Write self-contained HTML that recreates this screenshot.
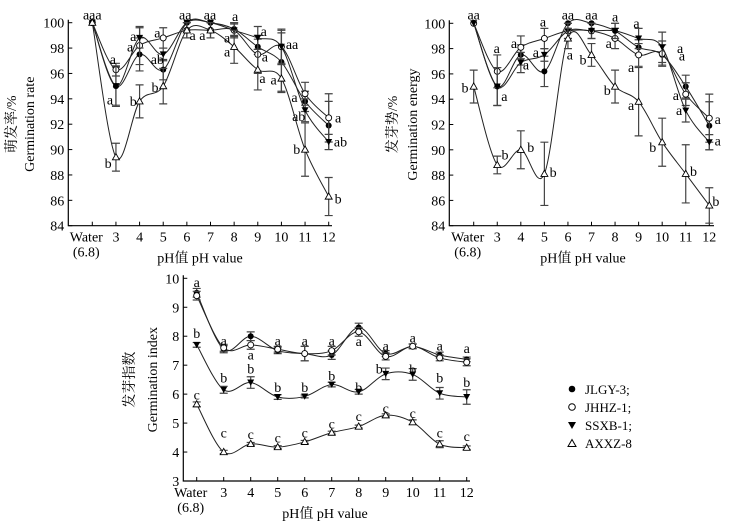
<!DOCTYPE html>
<html><head><meta charset="utf-8">
<style>
html,body{margin:0;padding:0;background:#fff;}
svg{display:block;font-family:"Liberation Serif","Noto Serif CJK SC",serif;}
</style></head>
<body>
<svg id="chart" width="732" height="524" viewBox="0 0 732 524" xmlns="http://www.w3.org/2000/svg">
<g>
  <circle cx="572" cy="389" r="3.3" fill="#000"/>
  <text x="585" y="394" font-size="13">JLGY-3;</text>
  <circle cx="572" cy="407" r="3.3" fill="#fff" stroke="#000"/>
  <text x="585" y="412" font-size="13">JHHZ-1;</text>
  <path d="M568,422 L576,422 L572,429 Z" fill="#000"/>
  <text x="585" y="430" font-size="13">SSXB-1;</text>
  <path d="M568,446.5 L576,446.5 L572,439.5 Z" fill="#fff" stroke="#000"/>
  <text x="585" y="448" font-size="13">AXXZ-8</text>
</g>
</svg>
<script>
const categories = ["Water","3","4","5","6","7","8","9","10","11","12"];
const seriesNames = ["JLGY-3","JHHZ-1","SSXB-1","AXXZ-8"];

// Panel 1: germination rate (%)
const rateJLGY = [100,95.0,97.5,96.3,100,100,99.5,98.1,96.9,93.8,91.9];
const rateJHHZ = [100,96.3,98.2,98.8,99.4,99.4,99.4,97.5,98.1,94.4,92.5];
const rateSSXB = [100,95.0,98.8,97.5,100,100,99.4,98.8,98.1,93.1,90.6];
const rateAXXZ = [100,89.4,93.8,95.0,99.4,99.4,98.1,96.3,95.6,90.0,86.3];
const rateErrJLGY = [0,1.5,1.3,0.8,0,0,0.5,0.6,2.3,0.8,1.9];
const rateErrJHHZ = [0,0.5,1.5,0.8,0.6,0.6,0.6,1.5,1.3,0.9,1.9];
const rateErrSSXB = [0,1.6,0.8,0.5,0,0,0.5,0.9,1.4,0.9,0.6];
const rateErrAXXZ = [0,1.1,1.3,1.4,0.6,0.6,1.3,1.6,1.1,2.1,1.5];
const rateTicks = [84,86,88,90,92,94,96,98,100];
const rateLetterText = ["aaa","a","a","b","a","a","b","a","ab","b","aa","a a","aa","a","a","a","a","a","a","a","aa","a","ab","b","a","ab","b"];
const rateLetterX = [0,0.87,0.75,0.67,1.73,1.6,1.73,2.75,2.75,2.65,3.93,4.45,4.98,6.04,5.7,5.7,7.25,7.3,7.2,7.67,8.45,8.55,8.73,8.65,10.4,10.5,10.4];
const rateLetterY = [100.6,97.1,93.9,88.9,98.9,98.1,93.8,99.2,97.1,94.9,100.6,99.0,100.6,100.5,98.8,97.7,99.3,97.3,95.6,95.5,98.3,94.1,92.6,90,92.5,90.6,86.1];

// Panel 2: germination energy (%)
const energyJLGY = [100,95.0,97.5,96.2,100,100,99.4,98.1,97.5,95.0,91.9];
const energyJHHZ = [100,96.2,98.1,98.8,99.4,99.4,98.8,97.5,97.6,94.4,92.5];
const energySSXB = [100,95.0,96.9,97.5,99.4,99.4,99.4,98.8,98.1,93.1,90.6];
const energyAXXZ = [95.0,88.8,90.0,88.1,98.8,97.5,95.0,93.8,90.6,88.1,85.6];
const energyErrJLGY = [0,1.5,0.8,1.2,0,0,0.6,0.6,0.8,0.9,1.9];
const energyErrJHHZ = [0,1.3,0.9,0.8,0.6,0.6,0.8,0.9,1.0,0.9,1.9];
const energyErrSSXB = [0,1.5,0.8,0.5,0.6,0.6,0.6,0.8,1.2,0.9,0.6];
const energyErrAXXZ = [1.3,0.7,1.5,2.5,0.8,0.9,1.3,2.7,1.9,2.3,1.4];
const energyTicks = [84,86,88,90,92,94,96,98,100];
const energyLetterText = ["aa","a","a","b","b","a","a","b","a","a","b","aa","a","aa","b","a","a","b","a","a","a","b","a","a","a","a","b","a","a","b"];
const energyLetterX = [0,0.98,1.3,-0.37,1.33,1.71,2.22,2.42,2.94,2.64,3.37,4.0,4.08,5.0,4.64,6.0,5.73,5.67,6.91,6.68,6.68,7.6,8.76,8.84,8.58,8.72,9.33,10.36,10.36,10.28];
const energyLetterY = [100.65,98.0,94.2,94.9,89.6,98.4,96.7,90.2,100.1,97.7,88.2,100.65,97.5,100.65,97.1,100.5,98.4,94.7,100,96.5,93.5,90.2,98,97.4,94.3,93.1,88.3,92.4,90.7,85.9];

// Panel 3: germination index
const indexJLGY = [9.5,7.55,8.0,7.5,7.4,7.35,8.3,7.4,7.65,7.35,7.2];
const indexJHHZ = [9.4,7.6,7.7,7.55,7.4,7.5,8.15,7.3,7.65,7.25,7.1];
const indexSSXB = [7.7,6.15,6.4,5.9,5.92,6.33,6.08,6.7,6.68,6.03,5.9];
const indexAXXZ = [5.65,4.0,4.28,4.17,4.35,4.67,4.88,5.27,5.03,4.27,4.15];
const indexErrJLGY = [0.15,0.12,0.15,0.1,0.25,0.15,0.15,0.1,0.08,0.1,0.08];
const indexErrJHHZ = [0.15,0.12,0.15,0.1,0.25,0.15,0.15,0.12,0.08,0.1,0.12];
const indexErrSSXB = [0.08,0.12,0.2,0.08,0.05,0.08,0.08,0.2,0.2,0.2,0.25];
const indexErrAXXZ = [0.08,0.06,0.05,0.05,0.05,0.05,0.05,0.05,0.08,0.12,0.06];
const indexTicks = [3,4,5,6,7,8,9,10];
const indexLetterText = ["a","a","a","a","a","a","a","a","a","a","a","b","b","b","b","b","b","b","b","b","b","b","c","c","c","c","c","c","c","c","c","c","c"];
const indexLetterX = [0,1,2,3,4,5,6,7,8,9,10,0,1,2,3,4,5,6,6.76,8,9,10,0,1,2,3,4,5,6,7,8,9,10];
const indexLetterY = [9.85,7.84,7.35,7.84,7.84,7.84,7.82,7.66,7.93,7.66,7.58,8.1,6.55,6.87,6.23,6.23,6.63,6.23,6.87,6.85,6.55,6.4,5.97,4.65,4.6,4.48,4.65,4.96,5.22,5.5,5.33,4.65,4.53];

const NS = "http://www.w3.org/2000/svg";
const svg = document.getElementById("chart");
function mk(tag, attrs, parent){
  const e = document.createElementNS(NS, tag);
  for (const k in attrs) e.setAttribute(k, attrs[k]);
  (parent||svg).appendChild(e);
  return e;
}
function spline(pts){
  let d = "M" + pts[0][0] + "," + pts[0][1];
  for (let i=0;i<pts.length-1;i++){
    const p0 = pts[Math.max(0,i-1)], p1 = pts[i], p2 = pts[i+1], p3 = pts[Math.min(pts.length-1,i+2)];
    const c1x = p1[0] + (p2[0]-p0[0])/6, c1y = p1[1] + (p2[1]-p0[1])/6;
    const c2x = p2[0] - (p3[0]-p1[0])/6, c2y = p2[1] - (p3[1]-p1[1])/6;
    d += " C" + c1x + "," + c1y + " " + c2x + "," + c2y + " " + p2[0] + "," + p2[1];
  }
  return d;
}
function marker(g, kind, x, y){
  let m;
  if (kind===0) m = mk("circle",{cx:x,cy:y,r:3,fill:"#000"},g);
  else if (kind===1) m = mk("circle",{cx:x,cy:y,r:3,fill:"#fff",stroke:"#000","stroke-width":0.9},g);
  else if (kind===2) m = mk("path",{d:`M${x-3.5},${y-3} L${x+3.5},${y-3} L${x},${y+3.3} Z`,fill:"#000"},g);
  else m = mk("path",{d:`M${x-3.5},${y+2.6} L${x+3.5},${y+2.6} L${x},${y-3.6} Z`,fill:"#fff",stroke:"#000","stroke-width":0.9},g);
  return m;
}
function panel(cfg){
  const g = mk("g",{});
  
  
  const x = i => cfg.x0 + i*cfg.sp;
  const y = v => cfg.yTop + (cfg.vMax - v) * (cfg.yBot - cfg.yTop) / (cfg.vMax - cfg.vMin);
  const ax = mk("path",{d:`M${cfg.axL},${cfg.yTop-3} L${cfg.axL},${cfg.yBot} L${cfg.axR},${cfg.yBot}`,fill:"none",stroke:"#000","stroke-width":1.2},g);
  
  
  cfg.ticks.forEach(t=>{
    mk("line",{x1:cfg.axL,x2:cfg.axL+4,y1:y(t),y2:y(t),stroke:"#000"},g);
    const tl = mk("text",{x:cfg.axL-4,y:y(t)+5,"text-anchor":"end","font-size":14},g);
    
    
    tl.textContent = t;
  });
  categories.forEach((c,i)=>{
    mk("line",{x1:x(i),x2:x(i),y1:cfg.yBot,y2:cfg.yBot-4,stroke:"#000"},g);
    const tl = mk("text",{x:x(i)+(i===0?-6:0),y:cfg.yBot+16,"text-anchor":"middle","font-size":14},g);
    
    
    tl.textContent = c;
    if (i===0){
      const t2 = mk("text",{x:x(i)-6,y:cfg.yBot+31,"text-anchor":"middle","font-size":14},g);
      
      
      t2.textContent = "(6.8)";
    }
  });
  const xt = mk("text",{x:cfg.xTitleX,y:cfg.yBot+37,"text-anchor":"middle","font-size":14},g);
  
  
  xt.textContent = "pH值 pH value";
  const cy = (cfg.yTop+cfg.yBot)/2;
  const yt1 = mk("text",{x:cfg.yT1,y:cy,"text-anchor":"middle","font-size":14,transform:`rotate(-90 ${cfg.yT1} ${cy})`},g);
  
  
  yt1.textContent = cfg.titleCn;
  const yt2 = mk("text",{x:cfg.yT2,y:cy,"text-anchor":"middle","font-size":14,transform:`rotate(-90 ${cfg.yT2} ${cy})`},g);
  
  
  yt2.textContent = cfg.titleEn;
  cfg.series.forEach((s,k)=>{
    const sg = mk("g",{},g);
    
    
    const pts = s.map((v,i)=>[x(i),y(v)]);
    const line = mk("path",{d:spline(pts),fill:"none",stroke:"#222","stroke-width":1},sg);
    
    
    s.forEach((v,i)=>{
      const e = cfg.errs[k][i];
      if (e>0){
        const eb = mk("path",{d:`M${x(i)},${y(v+e)} L${x(i)},${y(v-e)} M${x(i)-4},${y(v+e)} L${x(i)+4},${y(v+e)} M${x(i)-4},${y(v-e)} L${x(i)+4},${y(v-e)}`,stroke:"#444","stroke-width":1.2,fill:"none"},sg);
        
        
      }
    });
    s.forEach((v,i)=>{
      const m = marker(sg,k,x(i),y(v));
      
      
    });
  });
  cfg.letters.forEach((t,j)=>{
    const lt = mk("text",{x:x(cfg.lx[j]),y:y(cfg.ly[j])+4.5,"text-anchor":"middle","font-size":14},g);
    
    
    lt.textContent = t;
  });
}
panel({name:"germination-rate-chart",x0:92.3,sp:23.64,yTop:22.7,yBot:225.7,vMin:84,vMax:100,axL:68.3,axR:332,
  ticks:rateTicks,xTitleX:200,yT1:16,yT2:34,titleCn:"萌发率/%",titleEn:"Germination rate",
  series:[rateJLGY,rateJHHZ,rateSSXB,rateAXXZ],errs:[rateErrJLGY,rateErrJHHZ,rateErrSSXB,rateErrAXXZ],
  letters:rateLetterText,lx:rateLetterX,ly:rateLetterY});
panel({name:"germination-energy-chart",x0:473.7,sp:23.56,yTop:23.3,yBot:225.7,vMin:84,vMax:100,axL:449.3,axR:714,
  ticks:energyTicks,xTitleX:583,yT1:397,yT2:417,titleCn:"发芽势/%",titleEn:"Germination energy",
  series:[energyJLGY,energyJHHZ,energySSXB,energyAXXZ],errs:[energyErrJLGY,energyErrJHHZ,energyErrSSXB,energyErrAXXZ],
  letters:energyLetterText,lx:energyLetterX,ly:energyLetterY});
panel({name:"germination-index-chart",x0:196.7,sp:27,yTop:278.3,yBot:481,vMin:3,vMax:10,axL:183.3,axR:470,
  ticks:indexTicks,xTitleX:325,yT1:134,yT2:157,titleCn:"发芽指数",titleEn:"Germination index",
  series:[indexJLGY,indexJHHZ,indexSSXB,indexAXXZ],errs:[indexErrJLGY,indexErrJHHZ,indexErrSSXB,indexErrAXXZ],
  letters:indexLetterText,lx:indexLetterX,ly:indexLetterY});
</script>
</body></html>
